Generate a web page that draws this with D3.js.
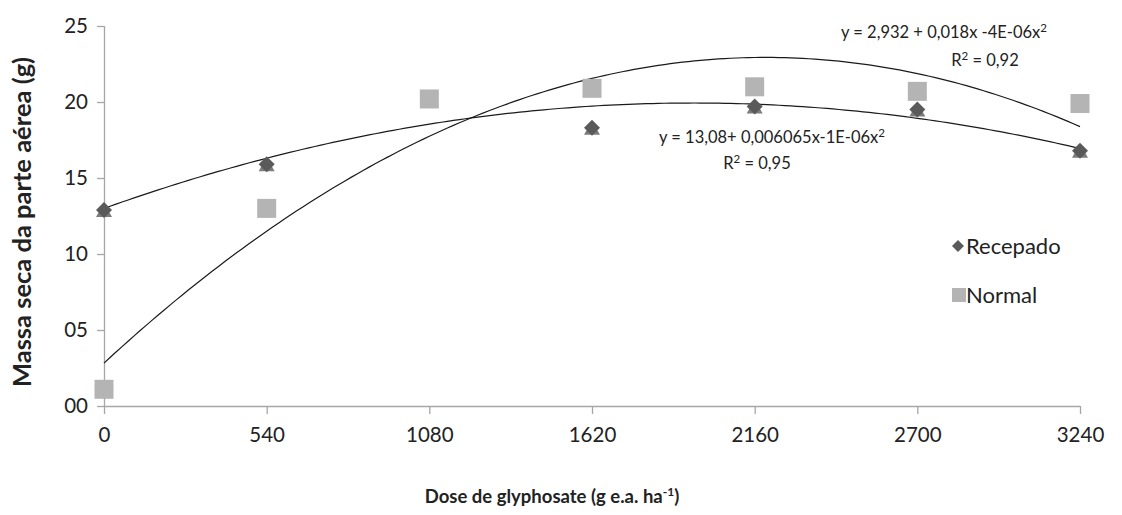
<!DOCTYPE html>
<html>
<head>
<meta charset="utf-8">
<script src="https://cdn.jsdelivr.net/npm/d3@7"></script>
<style>
  body { margin: 0; background: #fff; }
  svg text { font-family: Lato, "Open Sans", sans-serif; fill: #222; }
</style>
</head>
<body>
<div class="chart"></div>
<script>
// doses (g e.a. ha-1)
var doses = [0, 540, 1080, 1620, 2160, 2700, 3240];
var recepado = [12.9, 15.9, 20.2, 18.3, 19.7, 19.5, 16.8];
var normal = [1.1, 13.0, 20.2, 20.9, 21.0, 20.7, 19.9];
var yTicks = [0, 5, 10, 15, 20, 25];
var yTickLabels = ["00", "05", "10", "15", "20", "25"];

var width = 1122, height = 515;

var svg = d3.select(".chart")
    .append("svg")
    .attr("width", width)
    .attr("height", height);

var x = d3.scaleLinear().domain([0, 3240]).range([104, 1080]);
var y = d3.scaleLinear().domain([0, 25]).range([406, 26]);

// least squares quadratic, like the excel trendline
function quadFit(xs, ys) {
    var n = xs.length, s = [0, 0, 0, 0, 0], t = [0, 0, 0];
    for (var i = 0; i < n; i++) {
        for (var k = 0; k < 5; k++) s[k] += Math.pow(xs[i], k);
        for (var k = 0; k < 3; k++) t[k] += ys[i] * Math.pow(xs[i], k);
    }
    var m = [[s[0], s[1], s[2], t[0]], [s[1], s[2], s[3], t[1]], [s[2], s[3], s[4], t[2]]];
    for (var c = 0; c < 3; c++) {
        for (var r = c + 1; r < 3; r++) {
            var f = m[r][c] / m[c][c];
            for (var j = c; j < 4; j++) m[r][j] -= f * m[c][j];
        }
    }
    var coef = [0, 0, 0];
    for (var r = 2; r >= 0; r--) {
        var v = m[r][3];
        for (var j = r + 1; j < 3; j++) v -= m[r][j] * coef[j];
        coef[r] = v / m[r][r];
    }
    return coef;
}

// axes
var axisColor = "#a6a6a6";
var yAxis = svg.append("g")
    .attr("transform", "translate(104,0)")
    .call(d3.axisLeft(y).tickValues(yTicks).tickSize(7).tickPadding(9)
        .tickFormat(function (d, i) { return yTickLabels[i]; }));
var xAxis = svg.append("g")
    .attr("transform", "translate(0,406)")
    .call(d3.axisBottom(x).tickValues(doses).tickSize(8).tickPadding(13).tickFormat(d3.format("d")));

[xAxis, yAxis].forEach(function (g) {
    g.selectAll("path, line").attr("stroke", axisColor).attr("stroke-width", 1.3);
    g.selectAll("text").style("font-size", "20.5px").style("font-family", "Lato, sans-serif").attr("fill", "#222");
});
xAxis.select(".domain").attr("d", "M104,0.5H1080");
yAxis.select(".domain").attr("d", "M0.5,26V406");

// trend lines
var xs = d3.range(0, 3241, 20);
var line = d3.line()
    .x(function (d) { return x(d[0]); })
    .y(function (d) { return y(d[1]); });

[recepado, normal].forEach(function (vals) {
    var c = quadFit(doses, vals);
    var pts = xs.map(function (v) { return [v, c[0] + c[1] * v + c[2] * v * v]; });
    svg.append("path")
        .attr("d", line(pts))
        .attr("fill", "none")
        .attr("stroke", "#1a1a1a")
        .attr("stroke-width", 1.2);
});

// recepado markers (triangle under the diamond)
var rec = doses.map(function (d, i) { return [d, recepado[i]]; });
svg.selectAll(".tri")
    .data(rec)
    .enter()
    .append("path")
    .attr("class", "tri")
    .attr("d", "M0,-7L8,7L-8,7Z")
    .attr("transform", function (d) { return "translate(" + x(d[0]) + "," + y(d[1]) + ")"; })
    .attr("fill", "#7c7c7c");
svg.selectAll(".dia")
    .data(rec)
    .enter()
    .append("path")
    .attr("class", "dia")
    .attr("d", "M0,-8L8,0L0,8L-8,0Z")
    .attr("transform", function (d) { return "translate(" + x(d[0]) + "," + y(d[1]) + ")"; })
    .attr("fill", "#5a5a5a");

// normal markers
svg.selectAll(".sq")
    .data(doses.map(function (d, i) { return [d, normal[i]]; }))
    .enter()
    .append("rect")
    .attr("class", "sq")
    .attr("x", function (d) { return x(d[0]) - 9.5; })
    .attr("y", function (d) { return y(d[1]) - 9.5; })
    .attr("width", 19)
    .attr("height", 19)
    .attr("fill", "#b4b4b4");

// equations
function eq(xc, yc, parts, size) {
    var t = svg.append("text")
        .attr("x", xc).attr("y", yc)
        .attr("text-anchor", "middle")
        .style("font-size", size + "px");
    parts.forEach(function (p) {
        var ts = t.append("tspan").text(p[0]);
        if (p[1]) ts.attr("baseline-shift", "super").style("font-size", (size * 0.7) + "px");
    });
}
eq(944, 38, [["y = 2,932 + 0,018x -4E-06x"], ["2", true]], 16.5);
eq(985, 66, [["R"], ["2", true], [" = 0,92"]], 16.5);
eq(772, 143, [["y = 13,08+ 0,006065x-1E-06x"], ["2", true]], 16.5);
eq(757, 169, [["R"], ["2", true], [" = 0,95"]], 16.5);

// legend
svg.append("path")
    .attr("d", "M0,-6L6,0L0,6L-6,0Z")
    .attr("transform", "translate(958,246)")
    .attr("fill", "#5a5a5a");
svg.append("text").attr("x", 966).attr("y", 254).style("font-size", "22px").text("Recepado");
svg.append("rect")
    .attr("x", 952).attr("y", 288).attr("width", 14).attr("height", 14)
    .attr("fill", "#b4b4b4");
svg.append("text").attr("x", 966).attr("y", 303).style("font-size", "22px").text("Normal");

// axis titles
var xt = svg.append("text")
    .attr("x", 552).attr("y", 503)
    .attr("text-anchor", "middle")
    .style("font-size", "18.5px").style("font-weight", "bold");
xt.append("tspan").text("Dose de glyphosate  (g e.a. ha");
xt.append("tspan").attr("baseline-shift", "super").style("font-size", "12px").text("-1");
xt.append("tspan").text(")");

svg.append("text")
    .attr("transform", "translate(31,222) rotate(-90)")
    .attr("text-anchor", "middle")
    .style("font-size", "25.5px").style("font-weight", "bold")
    .text("Massa seca da parte aérea (g)");
</script>
</body>
</html>
